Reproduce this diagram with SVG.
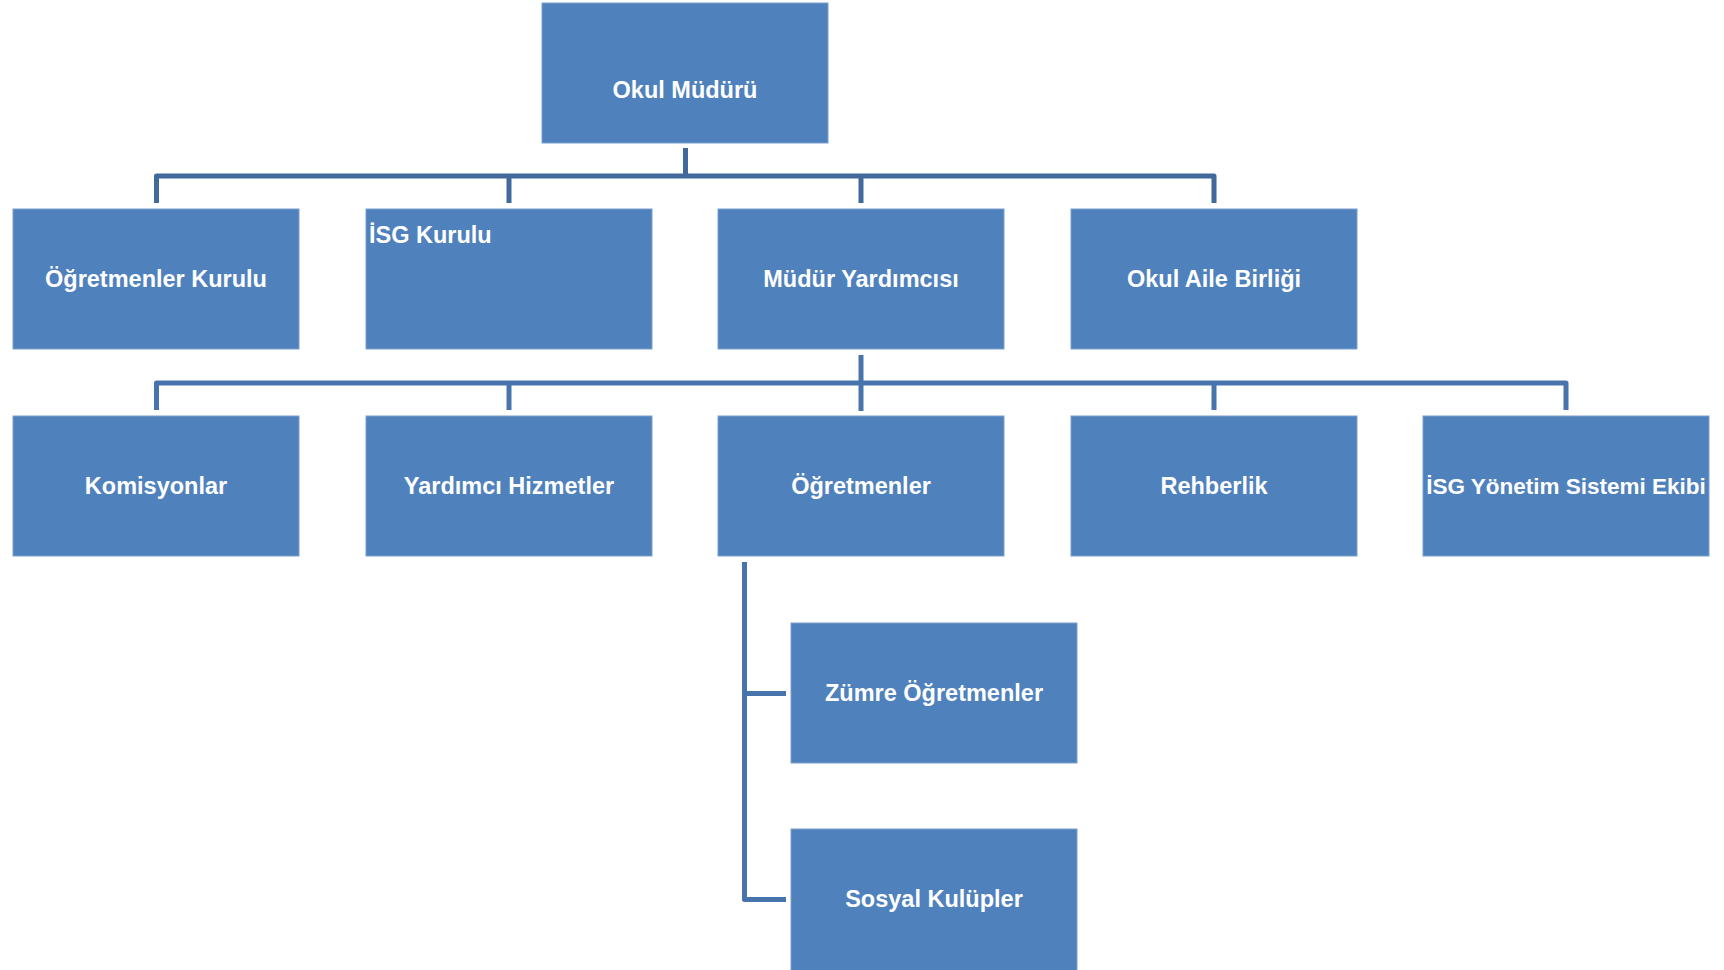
<svg xmlns="http://www.w3.org/2000/svg" width="1724" height="970" viewBox="0 0 1724 970">
<style>
.box{fill:#4F81BD;stroke:#7B9FCF;stroke-width:1}
.lbl{font-family:"Liberation Sans",Arial,sans-serif;font-weight:bold;font-size:23.5px;fill:#FFFFFF;text-anchor:middle;dominant-baseline:central}
.c1{fill:none;stroke:#41699B;stroke-width:5;stroke-linejoin:round}
.c2{fill:none;stroke:#4874AD;stroke-width:5;stroke-linejoin:round}
</style>
<rect width="1724" height="970" fill="#FFFFFF"/>
<g id="connectors">
<path class="c1" d="M685.5 148 V176"/>
<path class="c1" d="M156.5 203 V176 H1214 V203"/>
<path class="c1" d="M509 176 V203"/>
<path class="c1" d="M861 176 V203"/>
<path class="c2" d="M861 355 V411"/>
<path class="c2" d="M156.5 410 V383 H1566 V410"/>
<path class="c2" d="M509 383 V410"/>
<path class="c2" d="M1214 383 V410"/>
<path class="c2" d="M744.5 562 V899.5 H786"/>
<path class="c2" d="M744.5 693.5 H786"/>
</g>
<g id="okul-muduru"><rect class="box" x="542" y="3" width="286" height="140"/><text class="lbl" x="685" y="90">Okul Müdürü</text></g>
<g id="ogretmenler-kurulu"><rect class="box" x="13" y="209" width="286" height="140"/><text class="lbl" x="156" y="279">Öğretmenler Kurulu</text></g>
<g id="isg-kurulu"><rect class="box" x="366" y="209" width="286" height="140"/><text class="lbl" x="369" y="235" style="text-anchor:start">İSG Kurulu</text></g>
<g id="mudur-yardimcisi"><rect class="box" x="718" y="209" width="286" height="140"/><text class="lbl" x="861" y="279">Müdür Yardımcısı</text></g>
<g id="okul-aile-birligi"><rect class="box" x="1071" y="209" width="286" height="140"/><text class="lbl" x="1214" y="279">Okul Aile Birliği</text></g>
<g id="komisyonlar"><rect class="box" x="13" y="416" width="286" height="140"/><text class="lbl" x="156" y="486">Komisyonlar</text></g>
<g id="yardimci-hizmetler"><rect class="box" x="366" y="416" width="286" height="140"/><text class="lbl" x="509" y="486">Yardımcı Hizmetler</text></g>
<g id="ogretmenler"><rect class="box" x="718" y="416" width="286" height="140"/><text class="lbl" x="861" y="486">Öğretmenler</text></g>
<g id="rehberlik"><rect class="box" x="1071" y="416" width="286" height="140"/><text class="lbl" x="1214" y="486">Rehberlik</text></g>
<g id="isg-yonetim"><rect class="box" x="1423" y="416" width="286" height="140"/><text class="lbl" x="1566" y="486" style="font-size:22.5px">İSG Yönetim Sistemi Ekibi</text></g>
<g id="zumre-ogretmenler"><rect class="box" x="791" y="623" width="286" height="140"/><text class="lbl" x="934" y="693">Zümre Öğretmenler</text></g>
<g id="sosyal-kulupler"><rect class="box" x="791" y="829" width="286" height="142"/><text class="lbl" x="934" y="899">Sosyal Kulüpler</text></g>
</svg>
